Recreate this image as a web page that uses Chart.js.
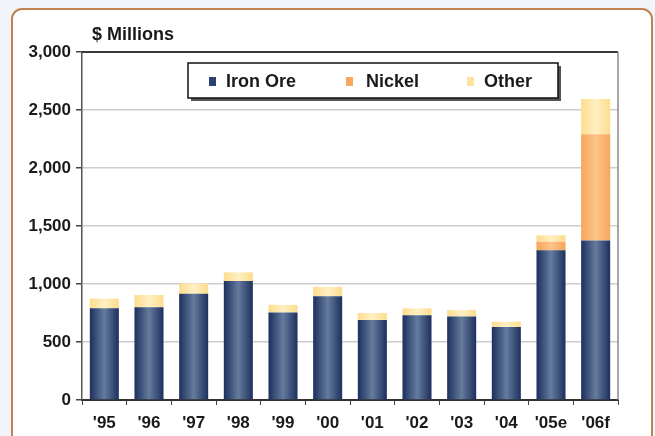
<!DOCTYPE html>
<html>
<head>
<meta charset="utf-8">
<script src="https://cdn.jsdelivr.net/npm/chart.js@4"></script>
<style>
  html, body { margin: 0; padding: 0; }
  body { width: 655px; height: 436px; background: #f1f4f8; position: relative; overflow: hidden; }
  .card {
    position: absolute; left: 11px; top: 8px; width: 638px; height: 460px;
    background: #fff; border: 2px solid #c2824f; border-radius: 11px;
  }
  #chart { position: absolute; left: 0; top: 0; }
</style>
</head>
<body>
<div class="card"></div>
<canvas id="chart" width="655" height="436"></canvas>
<script>
// ===== DADOS =====
const years    = ["'95", "'96", "'97", "'98", "'99", "'00", "'01", "'02", "'03", "'04", "'05e", "'06f"];
const ironOre  = [790, 800, 915, 1025, 755, 895, 690, 730, 720, 630, 1290, 1375];
const nickel   = [0, 0, 0, 0, 0, 0, 0, 0, 0, 0, 75, 915];
const other    = [85, 105, 90, 75, 65, 80, 60, 60, 55, 45, 55, 305];
const yTicks   = [0, 500, 1000, 1500, 2000, 2500, 3000];
const seriesNames = ['Iron Ore', 'Nickel', 'Other'];

const FONT = '"Liberation Sans", Arial, sans-serif';
const BAR_PCT = 0.65;

// gradiente horizontal por barra (bordas escuras, centro claro)
function barFill(edge, mid) {
  return ctx => {
    const c = ctx.chart;
    const xs = c.scales.x;
    if (!c.chartArea || !xs) return mid;
    const cx = xs.getPixelForValue(ctx.dataIndex);
    const w = xs.width / years.length * BAR_PCT;
    const g = c.ctx.createLinearGradient(cx - w / 2, 0, cx + w / 2, 0);
    g.addColorStop(0, edge);
    g.addColorStop(0.5, mid);
    g.addColorStop(1, edge);
    return g;
  };
}

const swatch = ['#2b4273', '#f6a862', '#fde3a0'];

// título + moldura + legenda
const extras = {
  id: 'extras',
  afterDatasetsDraw(chart) {
    const { ctx, chartArea: a } = chart;
    ctx.save();
    // moldura superior / direita
    ctx.lineWidth = 2;
    ctx.strokeStyle = '#3a3a3a';
    ctx.beginPath();
    ctx.moveTo(a.left, a.top);
    ctx.lineTo(a.right, a.top);
    ctx.stroke();
    ctx.strokeStyle = '#8a8a8a';
    ctx.lineWidth = 1.5;
    ctx.beginPath();
    ctx.moveTo(a.right, a.top);
    ctx.lineTo(a.right, a.bottom);
    ctx.stroke();
    ctx.restore();
  },
  afterDraw(chart) {
    const ctx = chart.ctx;
    ctx.save();
    ctx.fillStyle = '#1a1a1a';
    ctx.font = 'bold 18px ' + FONT;
    ctx.textBaseline = 'alphabetic';
    ctx.fillText('$ Millions', 92, 40);

    // caixa da legenda
    const bx = 188, by = 63, bw = 370, bh = 35;
    ctx.fillStyle = '#555';
    ctx.fillRect(bx + 3, by + 3, bw, bh);
    ctx.fillStyle = '#fff';
    ctx.fillRect(bx, by, bw, bh);
    ctx.strokeStyle = '#111';
    ctx.lineWidth = 1.5;
    ctx.strokeRect(bx, by, bw, bh);

    const markX = [209, 346, 467];
    const textX = [226, 366, 484];
    ctx.font = 'bold 18px ' + FONT;
    ctx.textBaseline = 'middle';
    seriesNames.forEach((name, i) => {
      ctx.fillStyle = swatch[i];
      ctx.fillRect(markX[i], 77, 7, 9);
      ctx.fillStyle = '#1a1a1a';
      ctx.fillText(name, textX[i], 82);
    });
    ctx.restore();
  }
};

new Chart(document.getElementById('chart'), {
  type: 'bar',
  data: {
    labels: years,
    datasets: [
      { label: seriesNames[0], data: ironOre, backgroundColor: barFill('#1d2f5e', '#647c9d'), borderWidth: 0 },
      { label: seriesNames[1], data: nickel,  backgroundColor: barFill('#f7a65a', '#fdc488'), borderWidth: 0 },
      { label: seriesNames[2], data: other,   backgroundColor: barFill('#fddc8c', '#fff0c4'), borderWidth: 0 }
    ]
  },
  options: {
    responsive: false,
    animation: false,
    devicePixelRatio: 1,
    layout: { padding: { top: 52, right: 37, left: 0, bottom: 0 } },
    datasets: { bar: { categoryPercentage: 1, barPercentage: BAR_PCT } },
    plugins: { legend: { display: false }, tooltip: { enabled: false } },
    scales: {
      x: {
        stacked: true,
        afterFit: s => { s.height = 36; },
        grid: { drawOnChartArea: false, drawTicks: true, tickLength: 5, color: '#444', offset: true },
        border: { color: '#333', width: 2 },
        ticks: { color: '#1a1a1a', padding: 8, font: { family: FONT, size: 17, weight: 'bold' }, maxRotation: 0, autoSkip: false }
      },
      y: {
        stacked: true,
        min: yTicks[0],
        max: yTicks[yTicks.length - 1],
        afterFit: s => { s.width = 82; },
        afterBuildTicks: s => { s.ticks = yTicks.map(v => ({ value: v })); },
        grid: {
          color: ctx => ctx.tick && ctx.tick.value === 0 ? 'rgba(0,0,0,0)' : '#cdcdcd',
          lineWidth: 1.5,
          tickColor: '#444',
          tickLength: 6
        },
        border: { color: '#555', width: 1.5 },
        ticks: {
          color: '#1a1a1a',
          padding: 5,
          font: { family: FONT, size: 17, weight: 'bold' },
          callback: v => v.toLocaleString('en-US')
        }
      }
    }
  },
  plugins: [extras]
});
</script>
</body>
</html>
